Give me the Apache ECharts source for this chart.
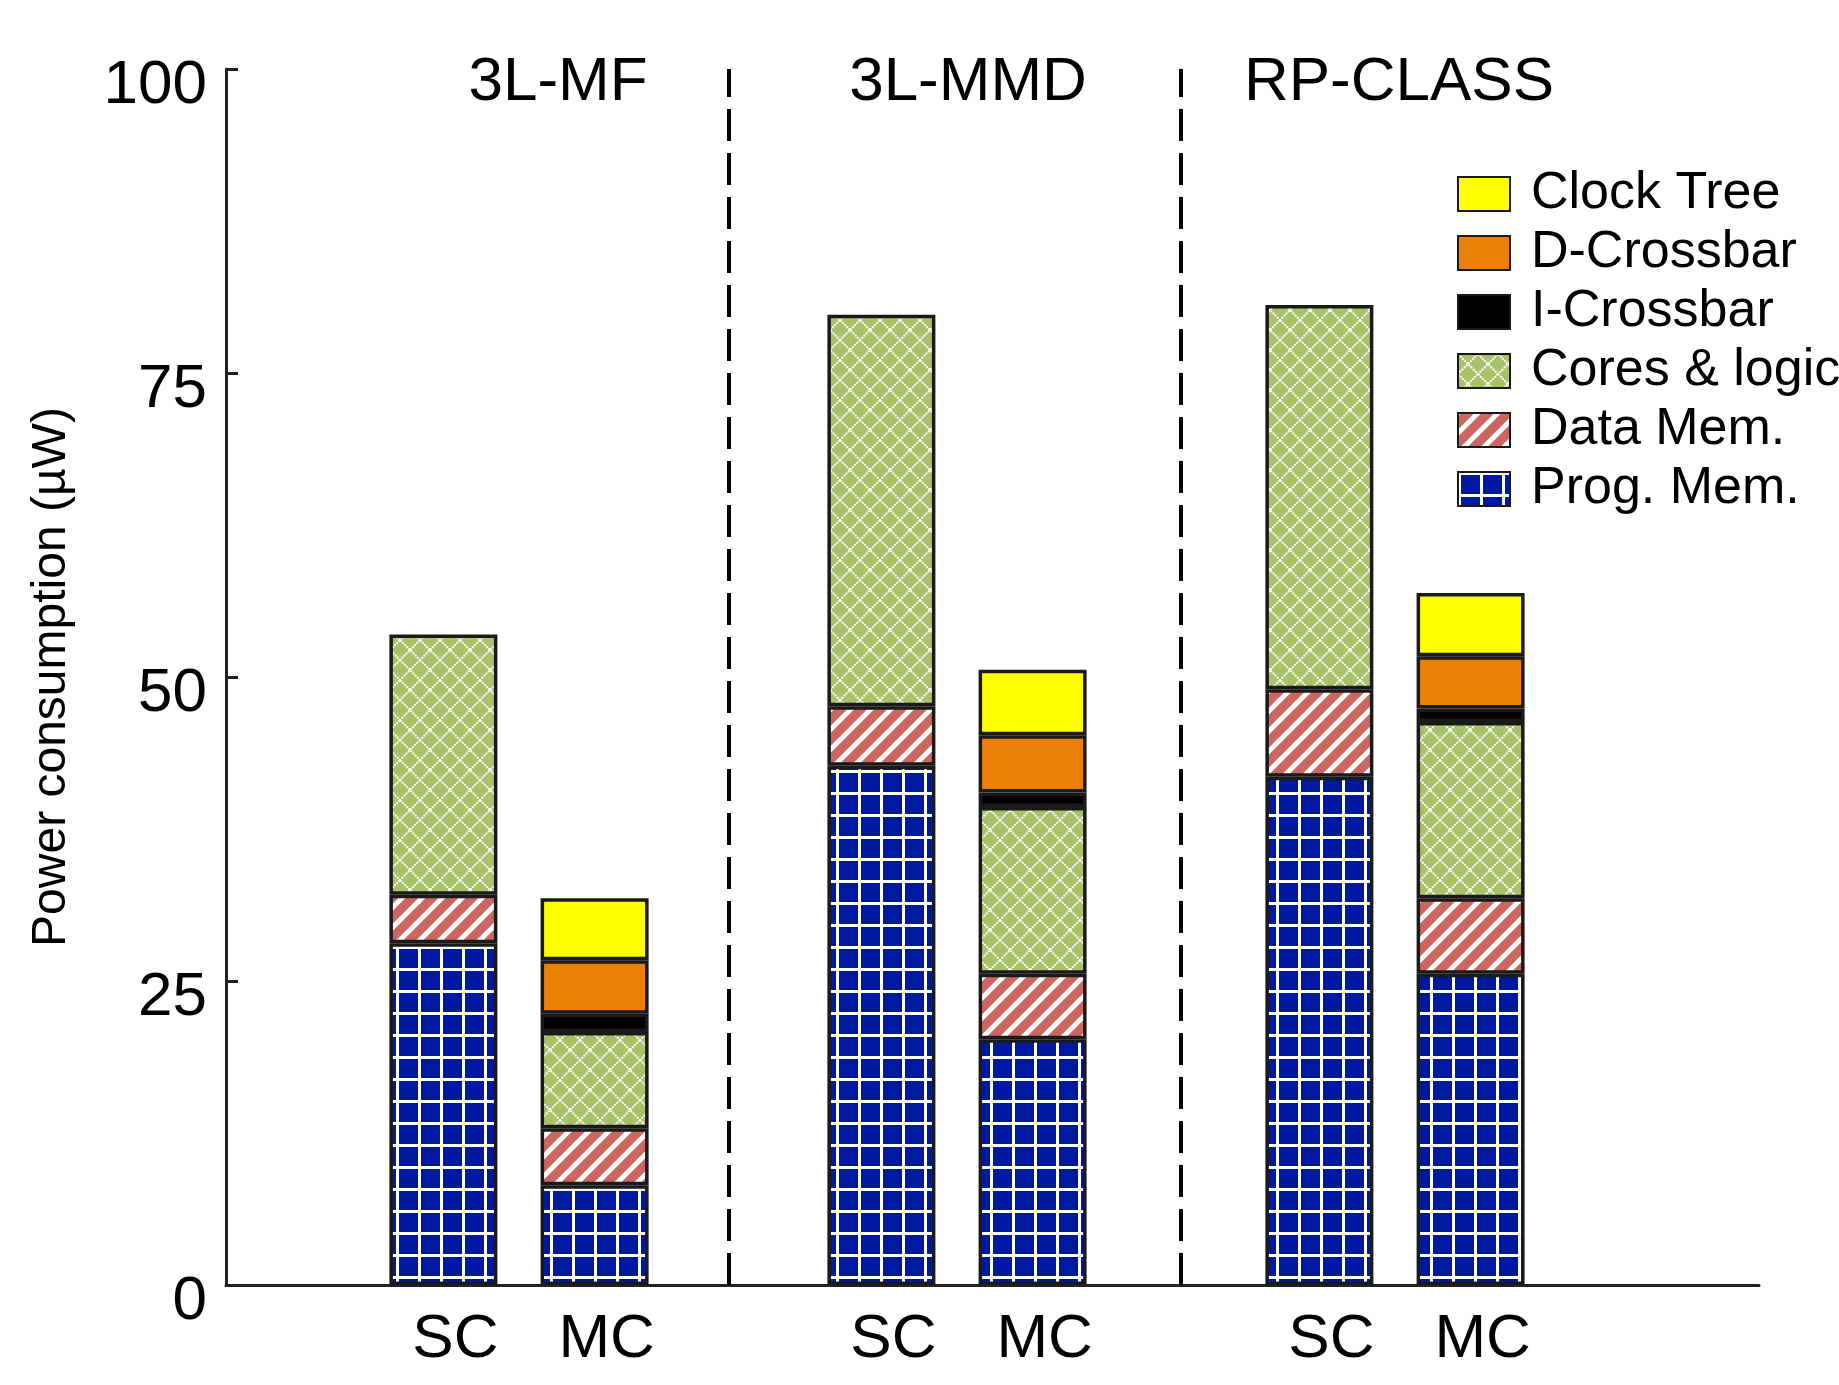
<!DOCTYPE html>
<html>
<head>
<meta charset="utf-8">
<script src="https://cdn.jsdelivr.net/npm/echarts@6/dist/echarts.min.js"></script>
<style>
  html, body { margin: 0; padding: 0; background: #fff; }
  #chart { width: 1839px; height: 1385px; }
</style>
</head>
<body>
<div id="chart"></div>
<script>
// groups along the x axis, each with a single-core (SC) and multi-core (MC) bar
const groups = ['3L-MF', '3L-MMD', 'RP-CLASS'];
const barNames = ['SC', 'MC'];

// power per component, uW
const progMemSC = [28.1, 42.7, 41.8];
const dataMemSC = [4.0, 4.9, 7.2];
const coresSC = [21.4, 32.2, 31.6];

const progMemMC = [8.2, 20.2, 25.6];
const dataMemMC = [4.7, 5.4, 6.2];
const coresMC = [7.9, 13.7, 14.5];
const iCrossbarMC = [1.5, 1.2, 1.1];
const dCrossbarMC = [4.4, 4.7, 4.3];
const clockTreeMC = [5.1, 5.4, 5.2];

// dashed separators, in group units (group i centred at i)
const dividers = [0.48, 1.51];

const yTicks = [0, 25, 50, 75, 100];
const legendOrder = ['Clock Tree', 'D-Crossbar', 'I-Crossbar', 'Cores & logic', 'Data Mem.', 'Prog. Mem.'];

const FONT = '"Liberation Sans", Arial, Helvetica, sans-serif';

// ---- fill patterns ----
function makeCanvas(w, h) {
  const c = document.createElement('canvas');
  c.width = w; c.height = h;
  return c;
}

function gridPattern() {
  const c = makeCanvas(22, 22);
  const ctx = c.getContext('2d');
  ctx.fillStyle = '#0019a0';
  ctx.fillRect(0, 0, 22, 22);
  ctx.fillStyle = '#ffffff';
  ctx.fillRect(0, 0, 3, 22);
  ctx.fillRect(0, 0, 22, 3);
  return c;
}

function stripePattern() {
  const s = 20;
  const c = makeCanvas(s, s);
  const ctx = c.getContext('2d');
  ctx.fillStyle = '#cc6660';
  ctx.fillRect(0, 0, s, s);
  ctx.strokeStyle = '#ffffff';
  ctx.lineWidth = 5;
  for (let k = -1; k <= 1; k++) {
    ctx.beginPath();
    ctx.moveTo(k * s - 2, s + 2);
    ctx.lineTo(k * s + s + 2, -2);
    ctx.stroke();
  }
  return c;
}

function latticePattern() {
  const s = 20;
  const c = makeCanvas(s, s);
  const ctx = c.getContext('2d');
  ctx.fillStyle = '#a9c26a';
  ctx.fillRect(0, 0, s, s);
  ctx.strokeStyle = '#ffffff';
  ctx.lineWidth = 2;
  ctx.setLineDash([2, 1]);
  ctx.beginPath();
  ctx.moveTo(0, 0); ctx.lineTo(s, s);
  ctx.moveTo(s, 0); ctx.lineTo(0, s);
  ctx.stroke();
  return c;
}

const fills = {
  'Prog. Mem.': { image: gridPattern(), repeat: 'repeat' },
  'Data Mem.': { image: stripePattern(), repeat: 'repeat' },
  'Cores & logic': { image: latticePattern(), repeat: 'repeat' },
  'I-Crossbar': '#000000',
  'D-Crossbar': '#ea8006',
  'Clock Tree': '#ffff00'
};

const chart = echarts.init(document.getElementById('chart'), null, { renderer: 'canvas' });

// frame geometry
const frameLeft = 226, frameRight = 80, barLeft = 300, barRight = 225;
const plotW = 1839 - barLeft - barRight;
const band = plotW / groups.length;
const xMinA = -0.5 - (barLeft - frameLeft) / band;
const xMaxA = -0.5 + (1839 - frameRight - barLeft) / band;

function barSeries(name, stack, values, withLabel) {
  const s = {
    name: name,
    type: 'bar',
    xAxisIndex: 1,
    yAxisIndex: 1,
    stack: stack,
    barWidth: 108,
    barGap: '40%',
    data: values,
    itemStyle: {
      color: fills[name],
      borderColor: '#1a1a1a',
      borderWidth: 3.5
    }
  };
  if (withLabel) {
    s.label = {
      show: true,
      position: 'bottom',
      distance: 24,
      offset: [12, 0],
      formatter: stack,
      fontFamily: FONT,
      fontSize: 62,
      color: '#000'
    };
  }
  return s;
}

const option = {
  backgroundColor: '#ffffff',
  animation: false,
  textStyle: { fontFamily: FONT },
  grid: [
    { left: frameLeft, right: frameRight, top: 69, bottom: 100 },
    { left: barLeft, right: barRight, top: 69, bottom: 100 }
  ],
  legend: {
    orient: 'vertical',
    left: 1452,
    top: 163,
    icon: 'rect',
    itemWidth: 52,
    itemHeight: 34,
    itemGap: 7,
    selectedMode: false,
    data: legendOrder,
    textStyle: {
      fontFamily: FONT,
      fontSize: 52,
      color: '#000',
      padding: [0, 0, 6, 16]
    }
  },
  xAxis: [
    {
      type: 'value',
      gridIndex: 0,
      min: xMinA,
      max: xMaxA,
      axisLine: { show: true, onZero: false, lineStyle: { color: '#222', width: 3 } },
      axisTick: { show: false },
      axisLabel: { show: false },
      splitLine: { show: false }
    },
    {
      type: 'category',
      gridIndex: 1,
      position: 'top',
      data: groups,
      axisLine: { show: false },
      axisTick: { show: false },
      axisLabel: {
        interval: 0,
        margin: -45,
        fontFamily: FONT,
        fontSize: 62,
        color: '#000',
        formatter: function (v, i) { return '{g' + i + '|' + v + '}'; },
        rich: {
          g0: { fontFamily: FONT, fontSize: 62, color: '#000', padding: [0, 0, 0, 78] },
          g1: { fontFamily: FONT, fontSize: 62, color: '#000', padding: [0, 0, 0, 22] },
          g2: { fontFamily: FONT, fontSize: 62, color: '#000', padding: [0, 0, 0, 8] }
        }
      },
      splitLine: { show: false }
    }
  ],
  yAxis: [
    {
      type: 'value',
      gridIndex: 0,
      min: yTicks[0],
      max: yTicks[yTicks.length - 1],
      interval: yTicks[1] - yTicks[0],
      name: 'Power consumption (\u00b5W)',
      nameLocation: 'middle',
      nameGap: 150,
      nameTextStyle: { fontFamily: FONT, fontSize: 48, color: '#000' },
      axisLine: { show: true, onZero: false, lineStyle: { color: '#222', width: 3 } },
      axisTick: { show: true, inside: true, length: 12, lineStyle: { color: '#222', width: 3 } },
      axisLabel: {
        margin: 19,
        fontFamily: FONT,
        fontSize: 62,
        color: '#000',
        verticalAlign: 'top',
        lineHeight: 34
      },
      splitLine: { show: false }
    },
    {
      type: 'value',
      gridIndex: 1,
      min: yTicks[0],
      max: yTicks[yTicks.length - 1],
      show: false
    }
  ],
  series: [
    {
      type: 'line',
      xAxisIndex: 0,
      yAxisIndex: 0,
      data: [],
      silent: true,
      markLine: {
        silent: true,
        symbol: 'none',
        label: { show: false },
        lineStyle: { color: '#000', width: 4, type: [32, 12] },
        data: dividers.map(function (d) { return { xAxis: d }; })
      }
    },
    barSeries('Prog. Mem.', barNames[0], progMemSC, true),
    barSeries('Data Mem.', barNames[0], dataMemSC),
    barSeries('Cores & logic', barNames[0], coresSC),
    barSeries('Prog. Mem.', barNames[1], progMemMC, true),
    barSeries('Data Mem.', barNames[1], dataMemMC),
    barSeries('Cores & logic', barNames[1], coresMC),
    barSeries('I-Crossbar', barNames[1], iCrossbarMC),
    barSeries('D-Crossbar', barNames[1], dCrossbarMC),
    barSeries('Clock Tree', barNames[1], clockTreeMC)
  ]
};

chart.setOption(option);
</script>
</body>
</html>
